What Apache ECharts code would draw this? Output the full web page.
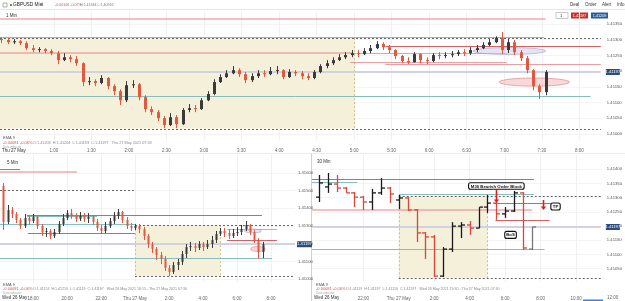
<!DOCTYPE html>
<html><head><meta charset="utf-8">
<script src="https://cdn.jsdelivr.net/npm/echarts@6.0.0/dist/echarts.min.js"></script>
<style>html,body{margin:0;padding:0;background:#fff;overflow:hidden}#chart{width:625px;height:301px}</style>
</head><body><div id="chart"></div>
<script>
// ---------------- DATA ----------------
// times are minutes from Wed 26 May 00:00 (1440 = Thu 27 May 00:00)
const topStart = 1458, topStep = 5;          // 1-min chart, drawn as 5-min bars
const topOpen0 = 1.41302;
const topClose = [1.41299,1.41292,1.41295,1.41289,1.41273,1.41267,1.41270,1.41264,1.41257,1.41235,
1.41244,1.41238,1.41225,1.41165,1.41168,1.41162,1.41178,1.41152,1.41136,1.41107,
1.41155,1.41158,1.41117,1.41079,1.41069,1.41050,1.41028,1.41053,1.41031,1.41076,
1.41082,1.41079,1.41107,1.41127,1.41165,1.41181,1.41193,1.41203,1.41190,1.41171,
1.41184,1.41193,1.41190,1.41200,1.41203,1.41181,1.41197,1.41193,1.41184,1.41178,
1.41197,1.41216,1.41225,1.41235,1.41244,1.41251,1.41257,1.41254,1.41264,1.41273,
1.41286,1.41276,1.41267,1.41248,1.41232,1.41228,1.41254,1.41235,1.41232,1.41251,
1.41248,1.41251,1.41254,1.41260,1.41257,1.41267,1.41273,1.41283,1.41292,1.41305,
1.41267,1.41292,1.41260,1.41241,1.41203,1.41152,1.41133,1.41197];
const topHigh = [1.41308,1.41305,1.41302,1.41299,1.41295,1.41283,1.41276,1.41273,1.41270,1.41264,
1.41257,1.41251,1.41248,1.41228,1.41181,1.41174,1.41187,1.41181,1.41158,1.41142,
1.41168,1.41171,1.41162,1.41123,1.41088,1.41076,1.41057,1.41066,1.41060,1.41082,
1.41095,1.41092,1.41114,1.41136,1.41174,1.41190,1.41203,1.41216,1.41209,1.41197,
1.41193,1.41203,1.41203,1.41213,1.41216,1.41206,1.41206,1.41203,1.41200,1.41193,
1.41203,1.41222,1.41235,1.41244,1.41254,1.41260,1.41267,1.41267,1.41273,1.41283,
1.41295,1.41292,1.41283,1.41270,1.41251,1.41244,1.41260,1.41257,1.41244,1.41257,
1.41260,1.41260,1.41264,1.41267,1.41270,1.41276,1.41283,1.41292,1.41302,1.41311,
1.41324,1.41302,1.41299,1.41267,1.41248,1.41206,1.41158,1.41203];
const topLow = [1.41289,1.41286,1.41286,1.41283,1.41267,1.41260,1.41260,1.41257,1.41251,1.41222,
1.41232,1.41228,1.41216,1.41152,1.41155,1.41152,1.41158,1.41142,1.41123,1.41092,
1.41101,1.41146,1.41107,1.41069,1.41060,1.41041,1.41018,1.41025,1.41018,1.41028,
1.41069,1.41069,1.41076,1.41104,1.41123,1.41162,1.41178,1.41190,1.41181,1.41162,
1.41165,1.41178,1.41181,1.41187,1.41190,1.41174,1.41178,1.41184,1.41174,1.41171,
1.41174,1.41193,1.41209,1.41219,1.41232,1.41238,1.41244,1.41244,1.41251,1.41257,
1.41270,1.41267,1.41257,1.41238,1.41225,1.41222,1.41228,1.41225,1.41222,1.41228,
1.41238,1.41241,1.41244,1.41248,1.41248,1.41251,1.41260,1.41270,1.41279,1.41289,
1.41254,1.41257,1.41251,1.41232,1.41193,1.41139,1.41111,1.41123];

const blStart = 975, blStep = 15;            // 5-min chart, drawn as 15-min bars
const blOpen0 = 1.41526;
const blClose = [1.41323,1.41390,1.41368,1.41334,1.41300,1.41345,1.41328,1.41351,1.41300,1.41266,
1.41272,1.41244,1.41266,1.41311,1.41345,1.41373,1.41362,1.41340,1.41357,1.41340,
1.41351,1.41323,1.41289,1.41272,1.41300,1.41328,1.41357,1.41379,1.41334,1.41300,
1.41289,1.41300,1.41283,1.41244,1.41198,1.41170,1.41136,1.41114,1.41063,1.41040,
1.41080,1.41097,1.41142,1.41181,1.41187,1.41176,1.41198,1.41181,1.41198,1.41221,
1.41255,1.41272,1.41260,1.41244,1.41260,1.41266,1.41283,1.41306,1.41266,1.41221,
1.41153,1.41197];
const blHigh = [1.41543,1.41419,1.41407,1.41379,1.41345,1.41368,1.41357,1.41368,1.41362,1.41311,
1.41289,1.41283,1.41283,1.41328,1.41368,1.41390,1.41396,1.41373,1.41379,1.41373,
1.41373,1.41362,1.41340,1.41306,1.41323,1.41345,1.41379,1.41396,1.41385,1.41351,
1.41317,1.41311,1.41311,1.41294,1.41255,1.41210,1.41181,1.41153,1.41130,1.41080,
1.41097,1.41114,1.41159,1.41198,1.41210,1.41204,1.41215,1.41210,1.41221,1.41244,
1.41272,1.41289,1.41289,1.41283,1.41283,1.41294,1.41306,1.41328,1.41311,1.41277,
1.41232,1.41210];
const blLow = [1.41277,1.41311,1.41345,1.41317,1.41283,1.41289,1.41306,1.41317,1.41283,1.41244,
1.41238,1.41227,1.41232,1.41255,1.41300,1.41334,1.41340,1.41323,1.41328,1.41323,
1.41317,1.41306,1.41272,1.41255,1.41260,1.41289,1.41311,1.41340,1.41317,1.41283,
1.41272,1.41277,1.41260,1.41221,1.41176,1.41147,1.41108,1.41085,1.41046,1.41017,
1.41029,1.41051,1.41080,1.41119,1.41159,1.41153,1.41164,1.41159,1.41170,1.41176,
1.41204,1.41244,1.41238,1.41227,1.41232,1.41244,1.41249,1.41272,1.41249,1.41204,
1.41114,1.41119];

const brStart = 1170, brStep = 30;           // 30-min OHLC bars
const brOpen  = [1.41302,1.41338,1.41348,1.41334,1.41317,1.41302,1.41285,1.41317,1.41334,1.41292,1.41299,1.41257,1.41176,1.41162,1.41024,1.41119,1.41200,1.41204,1.41193,1.41267,1.41281,1.41243,1.41253,1.41317,1.41119];
const brHigh  = [1.41380,1.41387,1.41380,1.41338,1.41320,1.41306,1.41331,1.41369,1.41338,1.41310,1.41302,1.41260,1.41179,1.41169,1.41126,1.41214,1.41214,1.41218,1.41267,1.41310,1.41285,1.41267,1.41324,1.41320,1.41197];
const brLow   = [1.41285,1.41317,1.41320,1.41317,1.41267,1.41257,1.41257,1.41310,1.41281,1.41260,1.41253,1.41144,1.41084,1.41021,1.41021,1.41109,1.41158,1.41169,1.41193,1.41246,1.41222,1.41229,1.41250,1.41116,1.41116];
const brClose = [1.41352,1.41348,1.41334,1.41317,1.41302,1.41285,1.41317,1.41334,1.41313,1.41299,1.41257,1.41176,1.41162,1.41024,1.41119,1.41200,1.41204,1.41193,1.41267,1.41281,1.41243,1.41253,1.41317,1.41123,1.41197];

const currentPrice = 1.41197;
const sessionBox = [1440, 1740, 1.41016, 1.41305];

// levels: [kind, fromTime, toTime, price]
const topLevels = [
  ['pinkThick',1457,1893,1.41365],['teal',1457,1892,1.41310],['dotted',1457,1938,1.41305],
  ['pinkThick',1457,1739,1.41257],['pinkThin',1737,1862,1.41257],['pinkThin',1737,1862,1.41228],
  ['red',1765,1938,1.41280],['pinkThin',1765,1938,1.41221],['teal',1457,1929,1.41121],
  ['dotted',1457,1938,1.41016]];
const blLevels = [
  ['red',963,1034,1.41620],['pinkThick',963,1235,1.41605],['dotted',963,1440,1.41503],
  ['red',1059,1888,1.41365],['teal',1059,1306,1.41355],['teal',963,1440,1.41311],
  ['dotted',1440,2005,1.41305],['red',1062,1440,1.41260],['pinkThin',1765,1941,1.41283],
  ['red',1765,1941,1.41221],['teal',963,1924,1.41121],['dotted',1440,2005,1.41016]];
const brLevels = [
  ['red',1146,1897,1.41365],['teal',1146,1300,1.41355],['teal',1440,1897,1.41312],
  ['dotted',1440,2124,1.41305],['pinkThick',1146,1890,1.41257],['red',1763,1983,1.41280],
  ['red',1767,1950,1.41221],['teal',1146,1933,1.41121],['dotted',1440,2124,1.41016]];

// zones (ellipses): [fromTime, toTime, lowPrice, highPrice, kind]
const topZones = [[1835,1893,1.41253,1.41275,'lav'],[1856,1912,1.41152,1.41178,'pink']];
const blZones  = [[1826,1886,1.41261,1.41283,'lav'],[1848,1900,1.41156,1.41184,'pink']];

// annotations on the 30 Min chart
const brNotes  = [['M30 Bearish Order Block',1770,1.41341],['TP',1970,1.41269],['BoS',1818,1.41169]];
const brArrows = [[1770,1.41327,1.41281],[1927,1.41292,1.41257]];

// axis ticks
const topXTicks = [1500,1530,1560,1590,1620,1650,1680,1710,1740,1770,1800,1830,1860,1890,1920];
const blXTicks  = [1080,1200,1320,1440,1560,1680,1800,1920];
const brXTicks  = [1320,1440,1560,1680,1800,1920,2040];
const topYTicks = [1.4100,1.4105,1.4110,1.4115,1.4120,1.4125,1.4130,1.4135];
const blYTicks  = [1.4100,1.4110,1.4120,1.4130,1.4140,1.4150,1.4160];
const brYTicks  = [1.4100,1.4105,1.4110,1.4115,1.4120,1.4125,1.4130,1.4135,1.4140];

// ---------------- STYLE ----------------
const FONT = 'Liberation Sans, Arial, sans-serif';
const UP = '#3a3a3a', DOWN = '#e4573f';
const LINE_STYLES = {
  pinkThick:{c:'rgba(232,150,150,0.6)', w:2},
  pinkThin:{c:'rgba(225,120,120,0.7)', w:1},
  red:{c:'rgba(205,70,70,0.85)', w:1},
  teal:{c:'#88bdbd', w:1},
  dotted:{c:'#666', w:1, d:[2,2]},
  current:{c:'rgba(205,205,228,0.9)', w:2}
};
const ZONE_STYLES = {
  lav:{fill:'rgba(205,205,232,0.55)', stroke:'rgba(160,160,210,0.8)'},
  pink:{fill:'rgba(242,180,180,0.5)', stroke:'rgba(220,120,120,0.75)'}
};

function fmtTime(v){
  if (v === 1440) return 'Thu 27 May';
  const m = ((v % 1440) + 1440) % 1440;
  return Math.floor(m/60) + ':' + String(m % 60).padStart(2,'0');
}
function clampX(cs, x){ return Math.max(cs.x, Math.min(cs.x + cs.width, x)); }

function xAx(gi, min, max, ticks, margin){
  return {gridIndex:gi, type:'value', min, max,
    axisLine:{show:false}, axisTick:{show:false, customValues:ticks},
    splitLine:{show:true, lineStyle:{color:'#f0f0f0'}},
    axisLabel:{customValues:ticks, formatter:fmtTime, fontSize:4.5, color:'#666', margin, fontFamily:FONT}};
}
function yAx(gi, min, max, ticks, margin){
  return {gridIndex:gi, type:'value', position:'right', min, max,
    axisLine:{show:false}, axisTick:{show:false, customValues:ticks},
    splitLine:{show:true, lineStyle:{color:'#f4f4f4'}},
    axisLabel:{customValues:ticks, formatter:v => v.toFixed(5), fontSize:4.2, color:'#555', margin, fontFamily:FONT}};
}

function sessionSeries(gi){
  return {type:'custom', xAxisIndex:gi, yAxisIndex:gi, z:1, silent:true,
    data:[sessionBox], encode:{x:[0,1], y:[2,3]},
    renderItem(params, api){
      const cs = params.coordSys;
      const a = api.coord([api.value(0), api.value(3)]);
      const b = api.coord([api.value(1), api.value(2)]);
      const x1 = clampX(cs, a[0]), x2 = clampX(cs, b[0]);
      const kids = [{type:'rect', shape:{x:x1, y:a[1], width:x2-x1, height:b[1]-a[1]}, style:{fill:'#f4f0da'}}];
      [a[0], b[0]].forEach(x => { if (x > cs.x + 1 && x < cs.x + cs.width) kids.push({type:'line', shape:{x1:Math.round(x)+0.5, y1:a[1], x2:Math.round(x)+0.5, y2:b[1]}, style:{stroke:'#cdc27e', lineWidth:1, lineDash:[2,2]}}); });
      return {type:'group', children:kids};
    }};
}

function levelSeries(gi, levels, tmin, tmax){
  const all = levels.concat([['current', tmin, tmax, currentPrice]]);
  return {type:'custom', xAxisIndex:gi, yAxisIndex:gi, z:3, silent:true,
    data: all.map(l => [l[1], l[2], l[3]]), encode:{x:[0,1], y:2},
    renderItem(params, api){
      const cs = params.coordSys;
      const st = LINE_STYLES[all[params.dataIndex][0]];
      const a = api.coord([api.value(0), api.value(2)]);
      const b = api.coord([api.value(1), api.value(2)]);
      const y = st.w % 2 ? Math.round(a[1]) + 0.5 : Math.round(a[1]);
      return {type:'line', shape:{x1:clampX(cs,a[0]), y1:y, x2:clampX(cs,b[0]), y2:y},
        style:{stroke:st.c, lineWidth:st.w, lineDash:st.d || null}};
    }};
}

function zoneSeries(gi, zones){
  return {type:'custom', xAxisIndex:gi, yAxisIndex:gi, z:4, silent:true,
    data: zones.map(z => [z[0], z[1], z[2], z[3]]), encode:{x:[0,1], y:[2,3]},
    renderItem(params, api){
      const st = ZONE_STYLES[zones[params.dataIndex][4]];
      const a = api.coord([api.value(0), api.value(3)]);
      const b = api.coord([api.value(1), api.value(2)]);
      const cx = (a[0]+b[0])/2, cy = (a[1]+b[1])/2, rx = Math.abs(b[0]-a[0])/2, ry = Math.abs(b[1]-a[1])/2;
      const pts = [];
      for (let k = 0; k < 48; k++){ const t = k/48*Math.PI*2; pts.push([cx + rx*Math.cos(t), cy + ry*Math.sin(t)]); }
      return {type:'polygon', shape:{points:pts}, style:{fill:st.fill, stroke:st.stroke, lineWidth:0.8}};
    }};
}

function candleSeries(gi, start, step, open0, close, high, low, bodyW){
  const open = [open0].concat(close.slice(0, -1));
  return {type:'custom', xAxisIndex:gi, yAxisIndex:gi, z:5, silent:true,
    data: close.map((c, i) => [start + i*step, open[i], c, low[i], high[i]]),
    encode:{x:0, y:[1,2,3,4]},
    renderItem(params, api){
      const t = api.value(0), o = api.value(1), c = api.value(2), l = api.value(3), h = api.value(4);
      const pO = api.coord([t,o]), pC = api.coord([t,c]), pH = api.coord([t,h]), pL = api.coord([t,l]);
      const col = c >= o ? UP : DOWN;
      const x = Math.round(pO[0]);
      const top = Math.min(pO[1], pC[1]), hgt = Math.max(1, Math.abs(pO[1]-pC[1]));
      return {type:'group', children:[
        {type:'line', shape:{x1:x+0.5, y1:pH[1], x2:x+0.5, y2:pL[1]}, style:{stroke:col, lineWidth:1}},
        {type:'rect', shape:{x:x+0.5-bodyW/2, y:top, width:bodyW, height:hgt}, style:{fill:col}}
      ]};
    }};
}

function ohlcSeries(gi){
  return {type:'custom', xAxisIndex:gi, yAxisIndex:gi, z:5, silent:true,
    data: brClose.map((c, i) => [brStart + i*brStep, brOpen[i], c, brLow[i], brHigh[i]]),
    encode:{x:0, y:[1,2,3,4]},
    renderItem(params, api){
      const t = api.value(0), o = api.value(1), c = api.value(2), l = api.value(3), h = api.value(4);
      const pO = api.coord([t,o]), pC = api.coord([t,c]), pH = api.coord([t,h]), pL = api.coord([t,l]);
      const last = params.dataIndex === brClose.length - 1;
      const col = last ? '#777' : (c >= o ? '#1a1a1a' : '#d9473a');
      const x = Math.round(pO[0]) + 0.5;
      const s = {stroke:col, lineWidth:1.3};
      return {type:'group', children:[
        {type:'line', shape:{x1:x, y1:pH[1], x2:x, y2:pL[1]}, style:s},
        {type:'line', shape:{x1:x-3.5, y1:pO[1], x2:x, y2:pO[1]}, style:s},
        {type:'line', shape:{x1:x, y1:pC[1], x2:x+3.5, y2:pC[1]}, style:s}
      ]};
    }};
}

function tagSeries(gi, tmin, dx, w){
  return {type:'custom', xAxisIndex:gi, yAxisIndex:gi, z:9, silent:true,
    data:[[tmin, currentPrice]], encode:{x:0, y:1},
    renderItem(params, api){
      const cs = params.coordSys;
      const p = api.coord([api.value(0), api.value(1)]);
      const x = cs.x + cs.width + dx;
      return {type:'group', children:[
        {type:'rect', shape:{x:x, y:p[1]-3, width:w, height:6, r:0.5}, style:{fill:'#2b4c7e'}},
        {type:'text', style:{text:currentPrice.toFixed(5), x:x + w/2, y:p[1], fill:'#fff', fontSize:4.2, fontFamily:FONT, align:'center', verticalAlign:'middle'}}
      ]};
    }};
}

function noteSeries(gi){
  return {type:'custom', xAxisIndex:gi, yAxisIndex:gi, z:10, silent:true,
    data: brNotes.map(n => [n[1], n[2]]), encode:{x:0, y:1},
    renderItem(params, api){
      const txt = brNotes[params.dataIndex][0];
      const p = api.coord([api.value(0), api.value(1)]);
      const w = txt.length * 2.2 + 5, h = txt.length > 3 ? 6.5 : 7;
      return {type:'group', children:[
        {type:'rect', shape:{x:p[0]-w/2, y:p[1]-h/2, width:w, height:h, r:2}, style:{fill:'#fff', stroke:'#111', lineWidth:1.1}},
        {type:'text', style:{text:txt, x:p[0], y:p[1]+0.3, fill:'#111', fontSize:4.3, fontWeight:'bold', fontFamily:FONT, align:'center', verticalAlign:'middle'}}
      ]};
    }};
}
function arrowSeries(gi){
  return {type:'custom', xAxisIndex:gi, yAxisIndex:gi, z:10, silent:true,
    data: brArrows.map(a => [a[0], a[1], a[2]]), encode:{x:0, y:[1,2]},
    renderItem(params, api){
      const a = api.coord([api.value(0), api.value(1)]);
      const b = api.coord([api.value(0), api.value(2)]);
      const x = Math.round(a[0]) + 0.5;
      return {type:'group', children:[
        {type:'line', shape:{x1:x, y1:a[1], x2:x, y2:b[1]-3}, style:{stroke:'#e01b1b', lineWidth:1.6}},
        {type:'polygon', shape:{points:[[x-2.6,b[1]-3.5],[x+2.6,b[1]-3.5],[x,b[1]]]}, style:{fill:'#e01b1b'}}
      ]};
    }};
}

// ---------------- GRAPHICS (UI chrome) ----------------
function txt(x, y, s, size, color, align){
  return {type:'text', x, y, silent:true, z:100, style:{text:s, fontSize:size, fill:color, fontFamily:FONT, verticalAlign:'middle', align:align || 'left'}};
}
const chrome = [
  {type:'line', silent:true, shape:{x1:0, y1:9.5, x2:625, y2:9.5}, style:{stroke:'#e6e6e6', lineWidth:1}},
  {type:'rect', silent:true, shape:{x:3, y:3, width:4, height:4}, style:{fill:'none', stroke:'#999', lineWidth:0.8}},
  {type:'rect', silent:true, shape:{x:10, y:4, width:2, height:2}, style:{fill:'#3a3'}},
  txt(13, 5, 'GBPUSD Mini', 4.8, '#222'),
  txt(40, 5, '▾', 4, '#666'),
  txt(55, 5, '-0.00106 -0.07%', 3.6, '#d9534f'),
  txt(80, 5, 'H:1.41344 L:1.40916', 3.6, '#777'),
  txt(570, 5, 'Deal', 4.5, '#333'), txt(585, 5, 'Order', 4.5, '#333'),
  txt(602, 5, 'Alert', 4.5, '#333'), txt(617, 5, 'Info', 4.5, '#333'),
  txt(6, 16, '1 Min', 4.5, '#333'),
  {type:'rect', silent:true, shape:{x:556, y:12.5, width:12, height:6}, style:{fill:'#fff', stroke:'#bbb', lineWidth:0.8}},
  txt(560, 15.5, '1', 4, '#333'),
  {type:'rect', silent:true, shape:{x:571, y:12.5, width:17, height:6}, style:{fill:'#c9302c'}},
  txt(579.5, 15.5, '1.41197', 3.8, '#fff', 'center'),
  {type:'rect', silent:true, shape:{x:591, y:12.5, width:17, height:6}, style:{fill:'#2d5b9a'}},
  txt(599.5, 15.5, '1.41209', 3.8, '#fff', 'center'),
  // top panel footer
  txt(3, 138, 'EMA 9', 4, '#555'),
  txt(3, 143, '-0.00081 -0.06%', 4, '#d9534f'),
  txt(33, 143, 'O:1.41203  H:1.41204  L:1.41193  C:1.41197   Thu 27 May 2021 07:33', 3.8, '#888'),
  txt(3, 147, 'Data indicator', 3, '#aaa'),
  txt(2, 151, 'Thu 27 May', 4.5, '#333'),
  {type:'line', silent:true, shape:{x1:0, y1:153.5, x2:625, y2:153.5}, style:{stroke:'#ececec', lineWidth:1}},
  {type:'line', silent:true, shape:{x1:311.5, y1:154, x2:311.5, y2:301}, style:{stroke:'#d0d0d0', lineWidth:1}},
  // bottom-left
  txt(7, 163, '5 Min', 4.5, '#333'),
  txt(3, 285, 'EMA 9', 4, '#555'),
  txt(3, 289, '-0.00081 -0.06%', 4, '#d9534f'),
  txt(33, 289, 'O:1.41153  H:1.41210  L:1.41119  C:1.41197   Wed 26 May 2021 16:15 - Thu 27 May 2021 07:30', 3.6, '#888'),
  txt(3, 293, 'Data indicator', 3, '#aaa'),
  txt(2, 298, 'Wed 26 May', 4.5, '#333'),
  // bottom-right
  txt(317, 162, '30 Min', 4.5, '#333'),
  txt(316, 285, 'EMA 9', 4, '#555'),
  txt(316, 289, '-0.00081 -0.06%', 4, '#d9534f'),
  txt(346, 289, 'O:1.41119  H:1.41197  L:1.41116  C:1.41197   Wed 26 May 2021 19:30 - Thu 27 May 2021 07:30', 3.6, '#888'),
  txt(316, 293, 'Data indicator', 3, '#aaa'),
  txt(314, 298, 'Wed 26 May', 4.5, '#333'),
  txt(607, 298, '12:00', 4.5, '#666'),
  {type:'rect', silent:true, shape:{x:583, y:299.5, width:20, height:1.5}, style:{fill:'#3b82d6'}}
];

// ---------------- CHART ----------------
const TOP = {tmin:1457, tmax:1937.2, pmin:1.409805, pmax:1.413882};
const BL  = {tmin:963.5, tmax:2004.7, pmin:1.409836, pmax:1.417012};
const BR  = {tmin:1146.7, tmax:2123.3, pmin:1.410032, pmax:1.414504};

const chart = echarts.init(document.getElementById('chart'), null, {renderer:'canvas'});
chart.setOption({
  animation:false,
  backgroundColor:'#fff',
  textStyle:{fontFamily:FONT},
  grid:[
    {left:0, top:12, width:605, height:128},
    {left:0, top:155, width:295, height:127},
    {left:312, top:155, width:293, height:127}
  ],
  xAxis:[
    xAx(0, TOP.tmin, TOP.tmax, topXTicks, 8),
    xAx(1, BL.tmin, BL.tmax, blXTicks, 14),
    xAx(2, BR.tmin, BR.tmax, brXTicks, 14)
  ],
  yAxis:[
    yAx(0, TOP.pmin, TOP.pmax, topYTicks, 6),
    yAx(1, BL.pmin, BL.pmax, blYTicks, 3),
    yAx(2, BR.pmin, BR.pmax, brYTicks, 6)
  ],
  graphic: chrome,
  series:[
    sessionSeries(0), sessionSeries(1), sessionSeries(2),
    levelSeries(0, topLevels, TOP.tmin, TOP.tmax),
    levelSeries(1, blLevels, BL.tmin, BL.tmax),
    levelSeries(2, brLevels, BR.tmin, BR.tmax),
    zoneSeries(0, topZones), zoneSeries(1, blZones),
    candleSeries(0, topStart, topStep, topOpen0, topClose, topHigh, topLow, 3),
    candleSeries(1, blStart, blStep, blOpen0, blClose, blHigh, blLow, 2),
    ohlcSeries(2),
    arrowSeries(2), noteSeries(2),
    tagSeries(0, TOP.tmin, 5, 14), tagSeries(1, BL.tmin, 2, 15), tagSeries(2, BR.tmin, 5, 14)
  ]
});
</script></body></html>
